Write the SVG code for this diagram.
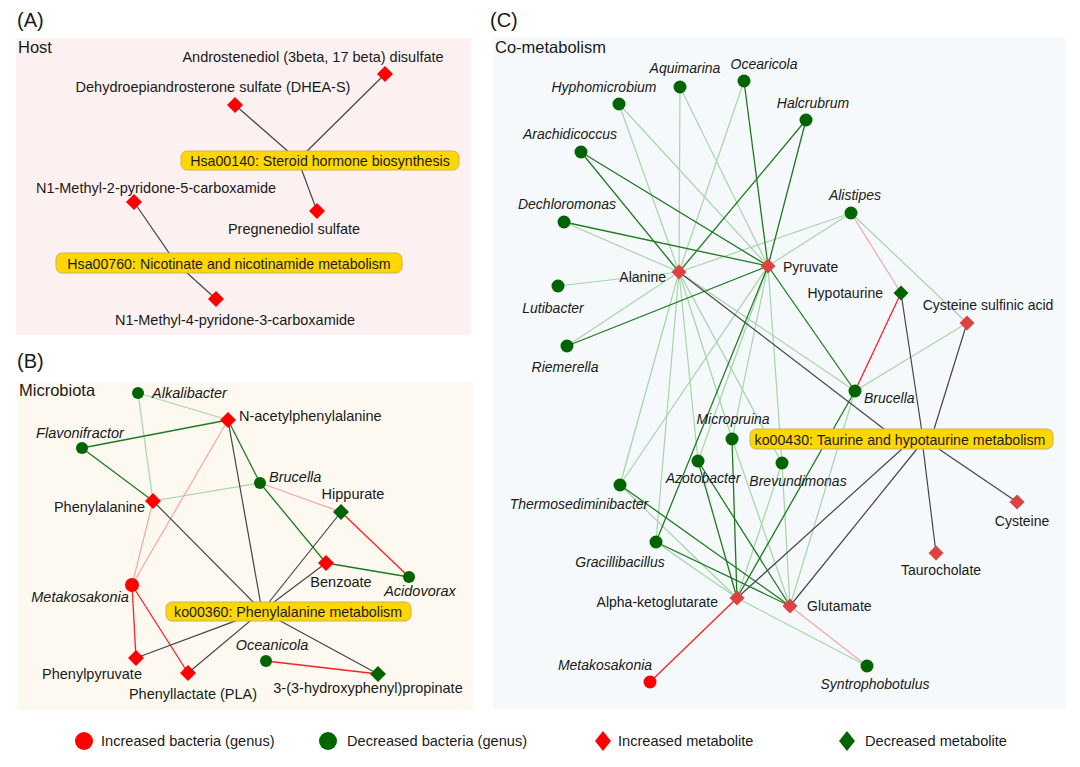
<svg xmlns="http://www.w3.org/2000/svg" xmlns:xlink="http://www.w3.org/1999/xlink" width="1080" height="767" viewBox="0 0 1080 767">
<style>
text{font-family:"Liberation Sans",Arial,sans-serif;fill:#1a1a1a}
.t{font-size:14.5px}
.c{font-size:14px}
.it{font-style:italic}
.m{text-anchor:middle}
.e{text-anchor:end}
.pn{font-size:20px}
.sec{font-size:16.5px}
.pw{font-size:14.2px}
.box{fill:#ffd700;stroke:#c8b35a;stroke-width:1}
.dg{stroke:#1f7a1f;stroke-width:1.3;fill:none}
.lg{stroke:#a6d5a6;stroke-width:1.2;fill:none}
.rd{stroke:#ff2020;stroke-width:1.3;fill:none}
.lr{stroke:#f6a6a6;stroke-width:1.2;fill:none}
.k{stroke:#454545;stroke-width:1.2;fill:none}
.fr{fill:#ff0000}
.fc{fill:#dc4242}
.fg{fill:#006400}
.lt{font-size:14.6px}
</style>
<defs>
<path id="d8" d="M0,-8L8,0L0,8L-8,0Z"/>
<path id="d7" d="M0,-7.5L7.5,0L0,7.5L-7.5,0Z"/>
<path id="dL" d="M0,-10L8,0L0,10L-8,0Z"/>
</defs>

<!-- panel backgrounds -->
<rect x="16" y="38" width="455" height="297" fill="#fcf1f0"/>
<rect x="17" y="382" width="456" height="328" fill="#fdf8f0"/>
<rect x="493" y="38" width="573" height="671" fill="#f5f9fc"/>

<text class="pn" x="17" y="27">(A)</text>
<text class="pn" x="17" y="368">(B)</text>
<text class="pn" x="490" y="27">(C)</text>
<text class="sec" x="18" y="53">Host</text>
<text class="sec" x="19" y="396">Microbiota</text>
<text class="sec" x="495" y="53">Co-metabolism</text>

<g id="connectors">
<!-- A -->
<line class="k" x1="385" y1="74" x2="298" y2="160"/>
<line class="k" x1="235" y1="105" x2="298" y2="160"/>
<line class="k" x1="317" y1="211" x2="298" y2="160"/>
<line class="k" x1="134" y1="202" x2="176" y2="263"/>
<line class="k" x1="216" y1="299" x2="176" y2="263"/>
<!-- B -->
<line class="lg" x1="138" y1="393" x2="228" y2="420"/>
<line class="lg" x1="138" y1="393" x2="153" y2="501"/>
<line class="dg" x1="82" y1="448" x2="228" y2="420"/>
<line class="dg" x1="82" y1="448" x2="153" y2="501"/>
<line class="dg" x1="228" y1="420" x2="260" y2="483"/>
<line class="lr" x1="228" y1="420" x2="132" y2="585"/>
<line class="lg" x1="153" y1="501" x2="260" y2="483"/>
<line class="lr" x1="153" y1="501" x2="132" y2="585"/>
<line class="lr" x1="260" y1="483" x2="341" y2="512"/>
<line class="dg" x1="260" y1="483" x2="326" y2="563"/>
<line class="rd" x1="341" y1="512" x2="409" y2="577"/>
<line class="dg" x1="326" y1="563" x2="409" y2="577"/>
<line class="rd" x1="132" y1="585" x2="136" y2="658"/>
<line class="rd" x1="132" y1="585" x2="188" y2="673"/>
<line class="rd" x1="266" y1="661" x2="378" y2="674"/>
<line class="k" x1="153" y1="501" x2="262" y2="611"/>
<line class="k" x1="228" y1="420" x2="262" y2="611"/>
<line class="k" x1="341" y1="512" x2="262" y2="611"/>
<line class="k" x1="326" y1="563" x2="262" y2="611"/>
<line class="k" x1="136" y1="658" x2="262" y2="611"/>
<line class="k" x1="188" y1="673" x2="262" y2="611"/>
<line class="k" x1="378" y1="674" x2="262" y2="611"/>
<!-- C light green -->
<line class="lg" x1="619" y1="104" x2="679" y2="272"/>
<line class="lg" x1="619" y1="104" x2="768" y2="266"/>
<line class="lg" x1="680" y1="87" x2="679" y2="272"/>
<line class="lg" x1="680" y1="87" x2="768" y2="266"/>
<line class="lg" x1="744" y1="81" x2="679" y2="272"/>
<line class="lg" x1="564" y1="222" x2="679" y2="272"/>
<line class="lg" x1="558" y1="286" x2="679" y2="272"/>
<line class="lg" x1="567" y1="346" x2="679" y2="272"/>
<line class="lg" x1="851" y1="213" x2="679" y2="272"/>
<line class="lg" x1="851" y1="213" x2="768" y2="266"/>
<line class="lg" x1="851" y1="213" x2="967" y2="323"/>
<line class="lg" x1="620" y1="485" x2="679" y2="272"/>
<line class="lg" x1="620" y1="485" x2="768" y2="266"/>
<line class="lg" x1="620" y1="485" x2="737" y2="598"/>
<line class="lg" x1="656" y1="542" x2="679" y2="272"/>
<line class="lg" x1="656" y1="542" x2="737" y2="598"/>
<line class="lg" x1="698" y1="461" x2="679" y2="272"/>
<line class="lg" x1="698" y1="461" x2="768" y2="266"/>
<line class="lg" x1="732" y1="439" x2="679" y2="272"/>
<line class="lg" x1="732" y1="439" x2="768" y2="266"/>
<line class="lg" x1="732" y1="439" x2="790" y2="606"/>
<line class="lg" x1="782" y1="463" x2="679" y2="272"/>
<line class="lg" x1="782" y1="463" x2="768" y2="266"/>
<line class="lg" x1="782" y1="463" x2="737" y2="598"/>
<line class="lg" x1="782" y1="463" x2="790" y2="606"/>
<line class="lg" x1="855" y1="391" x2="679" y2="272"/>
<line class="lg" x1="855" y1="391" x2="790" y2="606"/>
<line class="lg" x1="855" y1="391" x2="967" y2="323"/>
<line class="lg" x1="737" y1="598" x2="867" y2="666"/>
<!-- C dark green -->
<line class="dg" x1="744" y1="81" x2="768" y2="266"/>
<line class="dg" x1="806" y1="120" x2="679" y2="272"/>
<line class="dg" x1="806" y1="120" x2="768" y2="266"/>
<line class="dg" x1="581" y1="152" x2="679" y2="272"/>
<line class="dg" x1="581" y1="152" x2="768" y2="266"/>
<line class="dg" x1="564" y1="222" x2="768" y2="266"/>
<line class="dg" x1="567" y1="346" x2="768" y2="266"/>
<line class="dg" x1="768" y1="266" x2="855" y2="391"/>
<line class="dg" x1="656" y1="542" x2="768" y2="266"/>
<line class="dg" x1="656" y1="542" x2="790" y2="606"/>
<line class="dg" x1="620" y1="485" x2="790" y2="606"/>
<line class="dg" x1="698" y1="461" x2="737" y2="598"/>
<line class="dg" x1="698" y1="461" x2="790" y2="606"/>
<line class="dg" x1="732" y1="439" x2="737" y2="598"/>
<line class="dg" x1="855" y1="391" x2="737" y2="598"/>
<!-- C red -->
<line class="rd" x1="901" y1="293" x2="855" y2="391"/>
<line class="rd" x1="737" y1="598" x2="650" y2="682"/>
<line class="lr" x1="851" y1="213" x2="901" y2="293"/>
<line class="lr" x1="790" y1="606" x2="867" y2="666"/>
<!-- C pathway -->
<line class="k" x1="679" y1="272" x2="897" y2="439"/>
<line class="k" x1="901" y1="293" x2="923" y2="439"/>
<line class="k" x1="967" y1="323" x2="931" y2="439"/>
<line class="k" x1="936" y1="553" x2="922" y2="439"/>
<line class="k" x1="1017" y1="502" x2="924" y2="439"/>
<line class="k" x1="737" y1="598" x2="913" y2="439"/>
<line class="k" x1="790" y1="606" x2="925" y2="439"/>
</g>

<!-- Panel A nodes -->
<g id="a-andro"><use href="#d8" x="385" y="74" class="fr"/><text class="t m" x="313" y="62">Androstenediol (3beta, 17 beta) disulfate</text></g>
<g id="a-dheas"><use href="#d8" x="235" y="105" class="fr"/><text class="t m" x="213" y="92">Dehydroepiandrosterone sulfate (DHEA-S)</text></g>
<g id="a-hsa00140"><rect class="box" x="181" y="151" width="278" height="19" rx="6"/><text class="pw m" x="320" y="165.5">Hsa00140: Steroid hormone biosynthesis</text></g>
<g id="a-n1m2"><use href="#d8" x="134" y="202" class="fr"/><text class="t m" x="156" y="193">N1-Methyl-2-pyridone-5-carboxamide</text></g>
<g id="a-preg"><use href="#d8" x="317" y="211" class="fr"/><text class="t m" x="294" y="234">Pregnenediol sulfate</text></g>
<g id="a-hsa00760"><rect class="box" x="56" y="253" width="346" height="20" rx="6"/><text class="pw m" x="229" y="268.5">Hsa00760: Nicotinate and nicotinamide metabolism</text></g>
<g id="a-n1m4"><use href="#d8" x="216" y="299" class="fr"/><text class="t m" x="235" y="324.5">N1-Methyl-4-pyridone-3-carboxamide</text></g>

<!-- Panel B nodes -->
<g id="b-alkali"><circle cx="138" cy="393" r="6" class="fg"/><text class="t it" x="152" y="398">Alkalibacter</text></g>
<g id="b-nacetyl"><use href="#d8" x="228" y="420" class="fr"/><text class="t" x="239" y="421">N-acetylphenylalanine</text></g>
<g id="b-flavo"><circle cx="82" cy="448" r="6" class="fg"/><text class="t it m" x="80" y="438">Flavonifractor</text></g>
<g id="b-brucella"><circle cx="260" cy="483" r="6" class="fg"/><text class="t it" x="269" y="482">Brucella</text></g>
<g id="b-hippurate"><use href="#d8" x="341" y="512" class="fg"/><text class="t m" x="353" y="499">Hippurate</text></g>
<g id="b-phe"><use href="#d8" x="153" y="501" class="fr"/><text class="t e" x="145" y="512">Phenylalanine</text></g>
<g id="b-benzoate"><use href="#d8" x="326" y="563" class="fr"/><text class="t m" x="341" y="587">Benzoate</text></g>
<g id="b-acido"><circle cx="409" cy="577" r="6" class="fg"/><text class="t it m" x="420" y="596">Acidovorax</text></g>
<g id="b-metako"><circle cx="132" cy="585" r="7" class="fr"/><text class="t it m" x="80" y="602">Metakosakonia</text></g>
<g id="b-ko00360"><rect class="box" x="166" y="602" width="245" height="19" rx="6"/><text class="pw m" x="288" y="616.5">ko00360: Phenylalanine metabolism</text></g>
<g id="b-oceani"><circle cx="266" cy="661" r="6" class="fg"/><text class="t it m" x="272" y="650">Oceanicola</text></g>
<g id="b-phpyr"><use href="#d8" x="136" y="658" class="fr"/><text class="t m" x="92" y="679">Phenylpyruvate</text></g>
<g id="b-pla"><use href="#d8" x="188" y="673" class="fr"/><text class="t m" x="193" y="699">Phenyllactate (PLA)</text></g>
<g id="b-3hpp"><use href="#d8" x="378" y="674" class="fg"/><text class="t m" x="368" y="693">3-(3-hydroxyphenyl)propinate</text></g>

<!-- Panel C nodes -->
<g id="c-hypho"><circle cx="619" cy="104" r="6.5" class="fg"/><text class="c it m" x="604" y="92">Hyphomicrobium</text></g>
<g id="c-aqui"><circle cx="680" cy="87" r="6.5" class="fg"/><text class="c it m" x="685" y="73">Aquimarina</text></g>
<g id="c-ocea"><circle cx="744" cy="81" r="6.5" class="fg"/><text class="c it m" x="764" y="69">Ocearicola</text></g>
<g id="c-halc"><circle cx="806" cy="120" r="6.5" class="fg"/><text class="c it m" x="813" y="108">Halcrubrum</text></g>
<g id="c-arach"><circle cx="581" cy="152" r="6.5" class="fg"/><text class="c it m" x="570" y="139">Arachidicoccus</text></g>
<g id="c-dechl"><circle cx="564" cy="222" r="6.5" class="fg"/><text class="c it m" x="567" y="209">Dechloromonas</text></g>
<g id="c-lutib"><circle cx="558" cy="286" r="6.5" class="fg"/><text class="c it m" x="553" y="313">Lutibacter</text></g>
<g id="c-riem"><circle cx="567" cy="346" r="6.5" class="fg"/><text class="c it m" x="565" y="372">Riemerella</text></g>
<g id="c-alist"><circle cx="851" cy="213" r="6.5" class="fg"/><text class="c it m" x="855" y="200">Alistipes</text></g>
<g id="c-alanine"><use href="#d7" x="679" y="272" class="fc"/><text class="c e" x="666" y="282">Alanine</text></g>
<g id="c-pyruvate"><use href="#d7" x="768" y="266" class="fc"/><text class="c" x="783" y="272">Pyruvate</text></g>
<g id="c-hypot"><use href="#d7" x="901" y="293" class="fg"/><text class="c e" x="883" y="298">Hypotaurine</text></g>
<g id="c-csa"><use href="#d7" x="967" y="323" class="fc"/><text class="c m" x="988" y="310">Cysteine sulfinic acid</text></g>
<g id="c-brucella"><circle cx="855" cy="391" r="6.5" class="fg"/><text class="c it" x="864" y="403">Brucella</text></g>
<g id="c-micro"><circle cx="732" cy="439" r="6.5" class="fg"/><text class="c it m" x="733" y="424">Micropruina</text></g>
<g id="c-ko00430"><rect class="box" x="750" y="429" width="303" height="20" rx="6"/><text class="pw m" x="900" y="444.5">ko00430: Taurine and hypotaurine metabolism</text></g>
<g id="c-azoto"><circle cx="698" cy="461" r="6.5" class="fg"/><text class="c it m" x="703" y="483">Azotobacter</text></g>
<g id="c-brev"><circle cx="782" cy="463" r="6.5" class="fg"/><text class="c it m" x="798" y="486">Brevundimonas</text></g>
<g id="c-thermo"><circle cx="620" cy="485" r="6.5" class="fg"/><text class="c it m" x="579" y="509">Thermosediminibacter</text></g>
<g id="c-cys"><use href="#d7" x="1017" y="502" class="fc"/><text class="c m" x="1022" y="526">Cysteine</text></g>
<g id="c-gracil"><circle cx="656" cy="542" r="6.5" class="fg"/><text class="c it m" x="620" y="567">Gracillibacillus</text></g>
<g id="c-tauro"><use href="#d7" x="936" y="553" class="fc"/><text class="c m" x="941" y="575">Taurocholate</text></g>
<g id="c-akg"><use href="#d7" x="737" y="598" class="fc"/><text class="c e" x="718" y="607">Alpha-ketoglutarate</text></g>
<g id="c-glu"><use href="#d7" x="790" y="606" class="fc"/><text class="c" x="807" y="611">Glutamate</text></g>
<g id="c-syntro"><circle cx="867" cy="666" r="6.5" class="fg"/><text class="c it m" x="875" y="689">Syntrophobotulus</text></g>
<g id="c-metako"><circle cx="650" cy="682" r="6.5" class="fr"/><text class="c it m" x="605" y="670">Metakosakonia</text></g>

<!-- legend -->
<g id="legend">
<circle cx="84" cy="741" r="9" class="fr"/><text class="lt" x="101" y="746">Increased bacteria (genus)</text>
<circle cx="328" cy="741" r="9" class="fg"/><text class="lt" x="347" y="746">Decreased bacteria (genus)</text>
<use href="#dL" x="603" y="741" class="fr"/><text class="lt" x="618" y="746">Increased metabolite</text>
<use href="#dL" x="847" y="741" class="fg"/><text class="lt" x="865" y="746">Decreased metabolite</text>
</g>
</svg>
